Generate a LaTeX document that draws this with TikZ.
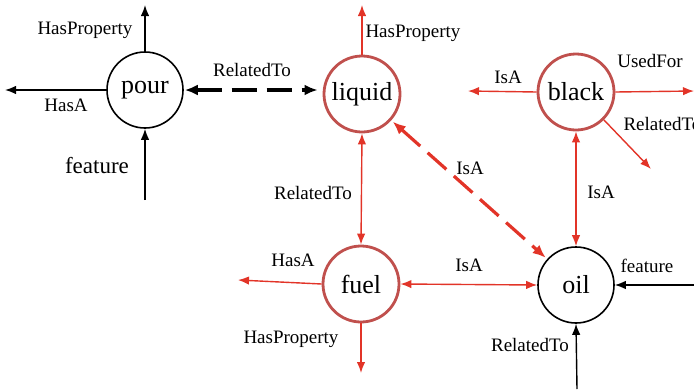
\documentclass[tikz,border=0pt]{standalone}
\usepackage{fontspec}
\setmainfont{Liberation Serif}
\usetikzlibrary{arrows.meta}
\definecolor{linkred}{RGB}{226,52,40}
\definecolor{ringred}{RGB}{192,80,77}
\begin{document}
\begin{tikzpicture}[x=1pt,y=-1pt,
  concept/.style={circle,draw,line width=1.6pt,minimum size=76pt,inner sep=0pt,
    fill=white,font=\fontsize{26}{28}\selectfont},
  hot/.style={concept,draw=ringred,line width=2.8pt},
  rel/.style={font=\fontsize{19}{21}\selectfont},
  bigrel/.style={font=\fontsize{23}{25}\selectfont},
  link/.style={line width=1.4pt,-{Latex[length=11pt,width=8.5pt]}},
  redlink/.style={link,draw=linkred,color=linkred},
  bothlink/.style={line width=1.4pt,draw=linkred,color=linkred,
    {Latex[length=11pt,width=8.5pt]}-{Latex[length=11pt,width=8.5pt]}},
  dashlink/.style={line width=3.2pt,dash pattern=on 25pt off 10pt,
    {Latex[length=13pt,width=11pt]}-{Latex[length=13pt,width=11pt]}},
]
\useasboundingbox (0,0) rectangle (694,389);

% concepts
\node[concept] (pour)   at (145,90)  {pour};
\node[hot]     (liquid) at (362,94)  {liquid};
\node[hot]     (black)  at (576,92)  {black};
\node[hot]     (fuel)   at (361,284) {fuel};
\node[concept] (oil)    at (576,285) {oil};

% free ends of the outgoing relations
\coordinate (pourUp)    at (145,5);
\coordinate (pourLeft)  at (5,90);
\coordinate (pourFeat)  at (145,200);
\coordinate (liqUp)     at (362,5);
\coordinate (blkLeft)   at (468,91);
\coordinate (blkRight)  at (694,91);
\coordinate (blkDiag)   at (651,169);
\coordinate (fuelLeft)  at (238,280);
\coordinate (fuelDown)  at (361,373);
\coordinate (oilFeat)   at (694,285);
\coordinate (oilRel)    at (577,389);

% pour
\draw[link] (pour.north) -- (pourUp);
\draw[link] (pour.west) -- (pourLeft);
\draw[link] (pourFeat) -- (pour.south);
\node[rel]    (lpourhp) at (85,30)   {HasProperty};
\node[rel]    (lpourha) at (66,105)  {HasA};
\node[bigrel] (lpourft) at (97,166)  {feature};

% pour <-> liquid
\draw[dashlink,shorten <=1pt,shorten >=5pt] (pour.east) -- (pour.east -| liquid.west);
\node[rel] (lpourrt) at (252,70) {RelatedTo};

% liquid
\draw[redlink] (liquid.north) -- (liqUp);
\node[rel] (lliqhp) at (413,33) {HasProperty};
\draw[bothlink] (liquid.south) -- (fuel.north);
\node[rel] (lliqrt) at (313,193) {RelatedTo};
\draw[dashlink,draw=linkred,color=linkred,shorten <=2pt,shorten >=2pt]
  (liquid.-42) -- (oil.138);
\node[rel] (lliqisa) at (470,168) {IsA};

% black
\draw[redlink] (black.west) -- (blkLeft);
\node[rel] (lblkisa) at (508,77) {IsA};
\draw[redlink] (black.east) -- (blkRight);
\node[rel] (lblkuf) at (650,61) {UsedFor};
\draw[redlink] (black.-45) -- (blkDiag);
\node[rel,anchor=west] (lblkrt) at (620,124) {RelatedTo};
\draw[bothlink] (black.south) -- (oil.north);
\node[rel] (lblkoil) at (601,192) {IsA};

% fuel
\draw[redlink] (fuel.west) -- (fuelLeft);
\node[rel] (lfuelha) at (293,260) {HasA};
\draw[redlink] (fuel.south) -- (fuelDown);
\node[rel] (lfuelhp) at (291,339) {HasProperty};
\draw[bothlink] (fuel.east) -- (oil.west);
\node[rel] (lfueloil) at (469,265) {IsA};

% oil
\draw[link] (oilFeat) -- (oil.east);
\node[rel] (loilft) at (647,266) {feature};
\draw[link] (oilRel) -- (oil.south);
\node[rel] (loilrt) at (530,345) {RelatedTo};
\end{tikzpicture}
\end{document}
